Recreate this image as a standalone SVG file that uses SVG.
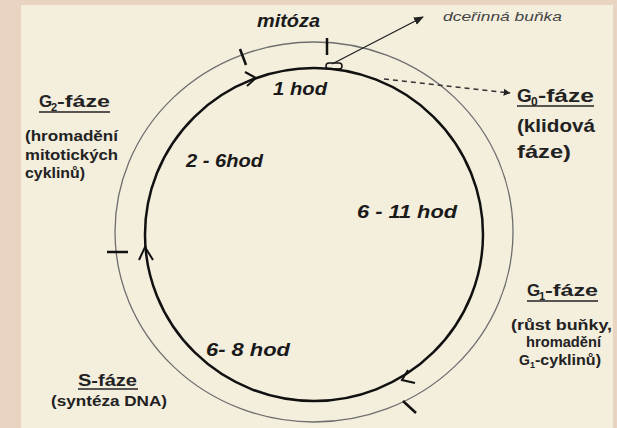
<svg xmlns="http://www.w3.org/2000/svg" width="617" height="428" viewBox="0 0 617 428">
<defs>
<style>
.t{font-family:"Liberation Sans",Arial,sans-serif;font-weight:bold;fill:#222}
.h{font-family:"Liberation Sans",Arial,sans-serif;font-weight:bold;font-style:italic;fill:#1a1a1a;font-size:18px}
.ul{stroke:#222;stroke-width:1.5}
.tick{stroke:#111;stroke-width:2.5;fill:none}
.chev{stroke:#111;stroke-width:2;fill:none;stroke-linejoin:miter}
</style>
<marker id="ah" viewBox="0 0 10 10" refX="9" refY="5" markerWidth="7" markerHeight="7" orient="auto" markerUnits="userSpaceOnUse">
<path d="M0,0 L10,5 L0,10 Z" fill="#222"/>
</marker>
<marker id="ah2" viewBox="0 0 10 10" refX="9" refY="5" markerWidth="10" markerHeight="10" orient="auto" markerUnits="userSpaceOnUse">
<path d="M0,1 L10,5 L0,9 Z" fill="#222"/>
</marker>
</defs>
<rect x="0" y="0" width="617" height="428" fill="#e8d4c1"/>
<rect x="21" y="5" width="592" height="423" fill="#f4eedd"/>

<g id="cycle">
<ellipse cx="314" cy="232" rx="199" ry="190" fill="none" stroke="#6e6e6e" stroke-width="1.3"/>
<ellipse cx="314" cy="234.5" rx="169" ry="166.5" fill="none" stroke="#111" stroke-width="2.5"/>
<line class="tick" x1="327" y1="38" x2="327" y2="55"/>
<line class="tick" x1="240" y1="49" x2="246" y2="65"/>
<line class="tick" x1="107" y1="252" x2="128" y2="252"/>
<line class="tick" x1="403" y1="401" x2="416" y2="413"/>
<path class="chev" d="M245,72 L256,78 L247,86"/>
<path class="chev" d="M139,260 L145,247 L153,260"/>
<path class="chev" d="M408,370 L402,380 L415,383"/>
<rect x="326" y="63" width="16" height="6" rx="3" fill="none" stroke="#111" stroke-width="1.5"/>
</g>

<g id="connectors">
<line x1="332" y1="64" x2="423" y2="17" stroke="#222" stroke-width="1.4" marker-end="url(#ah2)"/>
<line x1="384" y1="79" x2="510" y2="93" stroke="#333" stroke-width="1.5" stroke-dasharray="5,4" marker-end="url(#ah)"/>
</g>

<g id="mitoza">
<text class="h" x="257" y="27" textLength="63" lengthAdjust="spacingAndGlyphs">mitóza</text>
</g>
<g id="dcerinna">
<text x="443" y="21" font-family="'Liberation Sans',Arial,sans-serif" font-style="italic" font-size="13" fill="#444" textLength="119" lengthAdjust="spacingAndGlyphs">dceřinná buňka</text>
</g>

<g id="hod1"><text class="h" x="273" y="95" textLength="54" lengthAdjust="spacingAndGlyphs">1 hod</text></g>
<g id="hod2"><text class="h" x="186" y="167" textLength="77" lengthAdjust="spacingAndGlyphs">2 - 6hod</text></g>
<g id="hod3"><text class="h" x="357" y="218" textLength="100" lengthAdjust="spacingAndGlyphs">6 - 11 hod</text></g>
<g id="hod4"><text class="h" x="206" y="356" textLength="84" lengthAdjust="spacingAndGlyphs">6- 8 hod</text></g>

<g id="g2">
<text class="t" x="39" y="107" font-size="17">G</text>
<text class="t" x="51" y="111" font-size="11">2</text>
<text class="t" x="57" y="107" font-size="17" textLength="53" lengthAdjust="spacingAndGlyphs">-fáze</text>
<line class="ul" x1="39" y1="112" x2="110" y2="112"/>
<text class="t" x="25" y="141" font-size="14" textLength="93" lengthAdjust="spacingAndGlyphs">(hromadění</text>
<text class="t" x="25" y="160" font-size="14" textLength="93" lengthAdjust="spacingAndGlyphs">mitotických</text>
<text class="t" x="25" y="178" font-size="14" textLength="60" lengthAdjust="spacingAndGlyphs">cyklinů)</text>
</g>

<g id="g0">
<text class="t" x="517" y="102" font-size="19">G</text>
<text class="t" x="531" y="106" font-size="12">0</text>
<text class="t" x="538" y="102" font-size="19" textLength="56" lengthAdjust="spacingAndGlyphs">-fáze</text>
<line class="ul" x1="517" y1="106" x2="594" y2="106"/>
<text class="t" x="517" y="132" font-size="19" textLength="78" lengthAdjust="spacingAndGlyphs">(klidová</text>
<text class="t" x="517" y="158" font-size="19" textLength="54" lengthAdjust="spacingAndGlyphs">fáze)</text>
</g>

<g id="g1">
<text class="t" x="527" y="296" font-size="17">G</text>
<text class="t" x="539" y="300" font-size="11">1</text>
<text class="t" x="545" y="296" font-size="17" textLength="53" lengthAdjust="spacingAndGlyphs">-fáze</text>
<line class="ul" x1="527" y1="301" x2="598" y2="301"/>
<text class="t" x="511" y="330" font-size="14" textLength="101" lengthAdjust="spacingAndGlyphs">(růst buňky,</text>
<text class="t" x="526" y="347" font-size="14" textLength="75" lengthAdjust="spacingAndGlyphs">hromadění</text>
<text class="t" x="519" y="365" font-size="14">G</text>
<text class="t" x="530" y="368" font-size="9">1</text>
<text class="t" x="535" y="365" font-size="14" textLength="66" lengthAdjust="spacingAndGlyphs">-cyklinů)</text>
</g>

<g id="s">
<text class="t" x="78" y="386" font-size="17" textLength="59" lengthAdjust="spacingAndGlyphs">S-fáze</text>
<line class="ul" x1="78" y1="389" x2="138" y2="389"/>
<text class="t" x="51" y="406" font-size="14" textLength="116" lengthAdjust="spacingAndGlyphs">(syntéza DNA)</text>
</g>
</svg>
